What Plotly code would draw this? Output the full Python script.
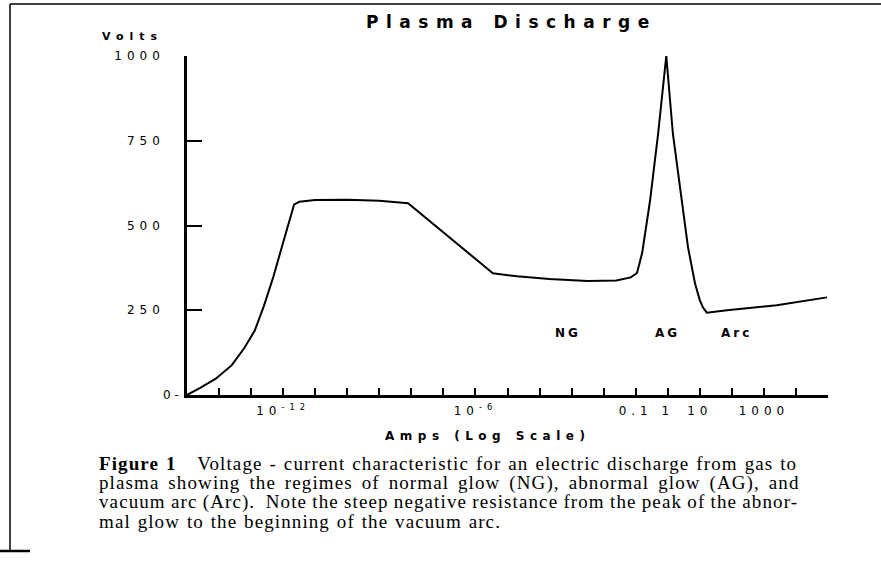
import plotly.graph_objects as go

# ---------------- data ----------------
amps = [1e-15, 2.5e-15, 7.9e-15, 2.5e-14, 6.3e-14, 1.3e-13, 2.5e-13, 5e-13,
        1e-12, 1.6e-12, 2.2e-12, 3.2e-12, 1e-11, 1e-10, 1e-9, 7.9e-9,
        7.9e-8, 5.5e-7, 3.5e-6, 2e-5, 2e-4, 3.2e-3, 0.025, 0.07, 0.11,
        0.16, 0.28, 0.5, 0.9, 1.45, 2.75, 4.3, 7.1, 10, 12.6, 16.6, 71,
        2500, 93000]
volts = [0, 20, 48, 88, 140, 190, 262, 350,
         450, 520, 562, 570, 575, 576, 573, 566,
         488, 423, 359, 350, 342, 336, 338, 347, 360,
         420, 573, 770, 1000, 770, 573, 435, 329, 280, 258, 243, 250,
         265, 288]

x_tick_vals = [1e-15, 1e-14, 1e-13, 1e-12, 1e-11, 1e-10, 1e-9, 1e-8, 1e-7,
               1e-6, 1e-5, 1e-4, 1e-3, 1e-2, 0.1, 1, 10, 100, 1000, 1e4, 1e5]
x_tick_labels = ["", "", "", "10<sup>-12</sup>", "", "", "", "", "",
                 "10<sup>-6</sup>", "", "", "", "", "0.1", "1", "10", "",
                 "1000", "", ""]
y_tick_vals = [0, 250, 500, 750, 1000]
y_tick_labels = ["", "250", "500", "750", "1000"]
y_zero_label = "0 -"

regime_labels = ["NG", "AG", "Arc"]
regime_amps_log = [-3.1, 0.0, 2.15]
regime_volts = [183, 183, 183]

title_text = "Plasma Discharge"
y_title = "Volts"
x_title = "Amps (Log Scale)"
caption_lines = [
    "<b>Figure 1</b>   Voltage - current characteristic for an electric discharge from gas to",
    "plasma showing the regimes of normal glow (NG), abnormal glow (AG), and",
    "vacuum arc (Arc).  Note the steep negative resistance from the peak of the abnor-",
    "mal glow to the beginning of the vacuum arc.",
]
caption_word_spacing = [1.1, 3.1, -0.6, 1.0]

# ---------------- layout helpers ----------------
W, H = 881, 568
L, R, T, B = 187, 53, 56, 173
PW, PH = W - L - R, H - T - B


def px(x):
    return (x - L) / PW


def py(y):
    return (H - B - y) / PH


def spaced(text, s, ws=None):
    style = "letter-spacing:%spx" % s
    if ws is not None:
        style += ";word-spacing:%spx" % ws
    return "<span style='%s'>%s</span>" % (style, text)


SANS = "DejaVu Sans"
SERIF = "Liberation Serif"

fig = go.Figure()
fig.add_trace(go.Scatter(
    x=amps, y=volts, mode="lines",
    line=dict(color="black", width=2),
    cliponaxis=False, showlegend=False, hoverinfo="x+y",
))

annotations = []
annotations.append(dict(text=spaced("<b>%s</b>" % title_text, 7.5), x=px(512), y=py(22),
                        xref="paper", yref="paper", showarrow=False,
                        xanchor="center", yanchor="middle",
                        font=dict(family=SANS, size=17, color="black")))
annotations.append(dict(text=spaced("<b>%s</b>" % y_title, 6), x=px(100), y=py(36),
                        xref="paper", yref="paper", showarrow=False,
                        xanchor="left", yanchor="middle",
                        font=dict(family=SANS, size=11, color="black")))
annotations.append(dict(text=spaced("<b>%s</b>" % x_title, 5.5), x=px(383), y=py(436),
                        xref="paper", yref="paper", showarrow=False,
                        xanchor="left", yanchor="middle",
                        font=dict(family=SANS, size=12, color="black")))
annotations.append(dict(text=y_zero_label, x=px(161), y=0,
                        xref="paper", yref="y", showarrow=False,
                        xanchor="left", yanchor="middle",
                        font=dict(family=SANS, size=12, color="black")))
for lab, xl, yv in zip(regime_labels, regime_amps_log, regime_volts):
    annotations.append(dict(text=spaced("<b>%s</b>" % lab, 3), x=xl, y=yv,
                            xref="x", yref="y", showarrow=False,
                            xanchor="center", yanchor="middle",
                            font=dict(family=SANS, size=12, color="black")))
cap_y = [463, 483, 502, 521]
for line, yy, ws in zip(caption_lines, cap_y, caption_word_spacing):
    annotations.append(dict(text=spaced(line, 1.1, ws), x=px(97), y=py(yy),
                            xref="paper", yref="paper", showarrow=False,
                            xanchor="left", yanchor="middle",
                            font=dict(family=SERIF, size=19, color="black")))

shapes = [
    dict(type="line", xref="paper", yref="paper", x0=px(10), x1=px(881),
         y0=py(4), y1=py(4), line=dict(color="black", width=1.5)),
    dict(type="line", xref="paper", yref="paper", x0=px(10), x1=px(10),
         y0=py(4), y1=py(552), line=dict(color="black", width=1.5)),
    dict(type="line", xref="paper", yref="paper", x0=px(0), x1=px(30),
         y0=py(551), y1=py(551), line=dict(color="black", width=2.5)),
]

fig.update_layout(
    width=W, height=H,
    margin=dict(l=L, r=R, t=T, b=B, pad=0),
    paper_bgcolor="white", plot_bgcolor="white",
    annotations=annotations, shapes=shapes,
    showlegend=False,
    xaxis=dict(type="log", range=[-15, 5], tickmode="array",
               tickvals=x_tick_vals,
               ticktext=[spaced(t, 5) if t else "" for t in x_tick_labels],
               ticks="inside", ticklen=7, tickwidth=1.5, tickcolor="black",
               showline=True, linewidth=2.5, linecolor="black",
               showgrid=False, zeroline=False, ticklabelstandoff=3,
               tickfont=dict(family=SANS, size=12, color="black")),
    yaxis=dict(range=[0, 1000], tickmode="array", tickvals=y_tick_vals,
               ticktext=[spaced(t, 5) if t else "" for t in y_tick_labels],
               ticks="inside", ticklen=15, tickwidth=1.5, tickcolor="black",
               showline=True, linewidth=2.5, linecolor="black",
               showgrid=False, zeroline=False, ticklabelstandoff=17,
               tickfont=dict(family=SANS, size=12, color="black")),
)

fig.write_html("out.html", config={"displayModeBar": False},
               post_script="document.body.style.margin='0';")
